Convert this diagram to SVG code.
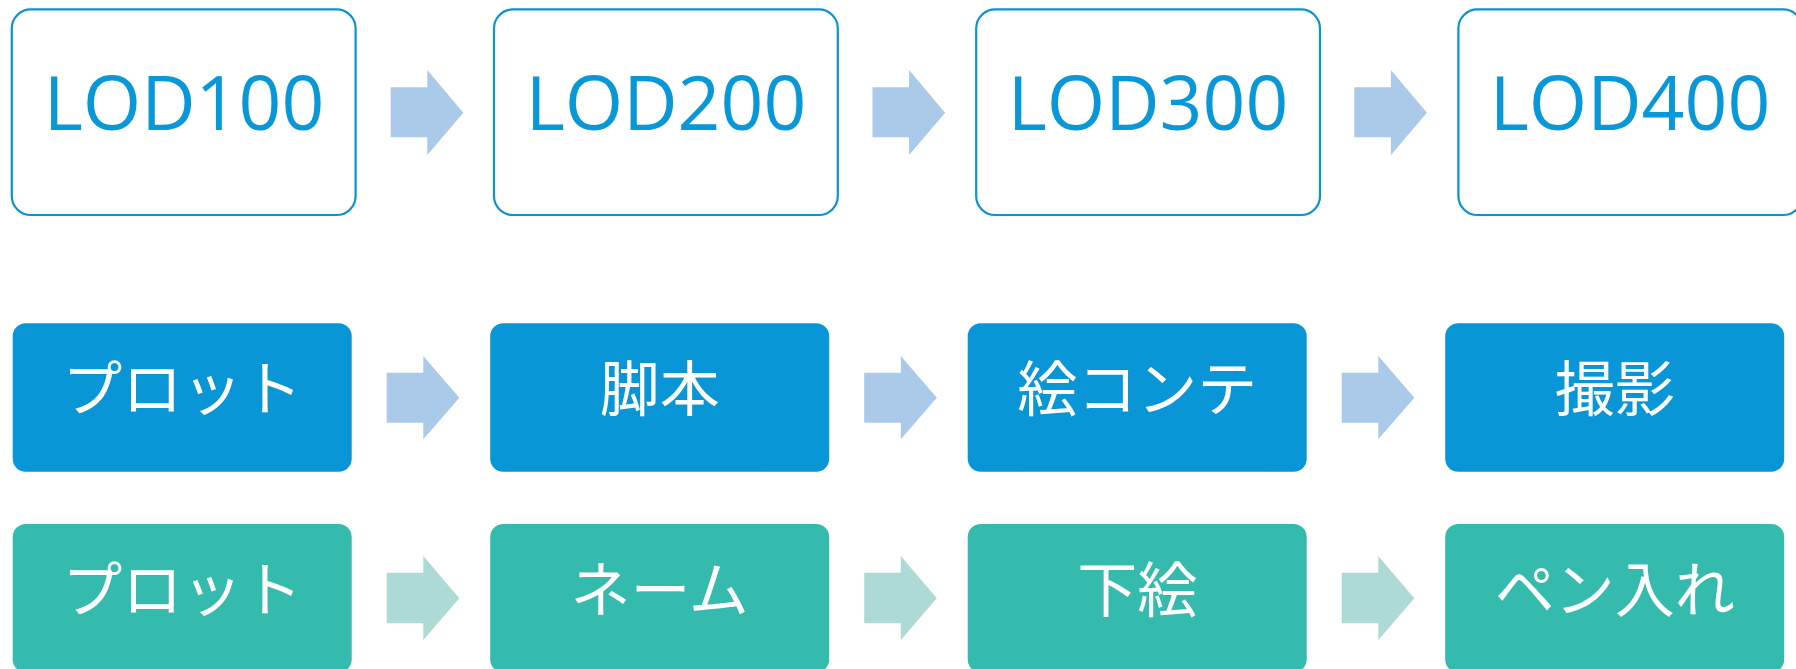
<svg xmlns="http://www.w3.org/2000/svg" width="1796" height="669" viewBox="0 0 1796 669">
  <style>
    .lodbox { fill: #ffffff; stroke: #0A93D1; stroke-width: 2.2; }
    .lodtxt { font-family: "Open Sans", "Noto Sans", "Liberation Sans", sans-serif; font-size: 75px; fill: #0898D8; text-anchor: middle; }
    .bbox { fill: #0896D6; }
    .gbox { fill: #35BBAD; }
    .jtxt { font-family: "Noto Sans CJK JP", "Noto Sans", sans-serif; font-size: 60px; fill: #ffffff; text-anchor: middle; }
    .arrB { fill: #ABC9E8; }
    .arrG { fill: #ADDAD4; }
  </style>
  <rect width="1796" height="669" fill="#ffffff"/>

  <g id="connectors">
    <path class="arrB" d="M390.7,87.3 H427.3 V70 L463.3,112.7 L427.3,155 V137.3 H390.7 Z"/>
    <path class="arrB" d="M872.5,87.3 H909.1 V70 L945.1,112.7 L909.1,155 V137.3 H872.5 Z"/>
    <path class="arrB" d="M1354.3,87.3 H1390.9 V70 L1426.9,112.7 L1390.9,155 V137.3 H1354.3 Z"/>

    <path class="arrB" d="M386.7,372.7 H423.3 V356 L459.3,397.7 L423.3,439.3 V422.7 H386.7 Z"/>
    <path class="arrB" d="M864.2,372.7 H900.8 V356 L936.8,397.7 L900.8,439.3 V422.7 H864.2 Z"/>
    <path class="arrB" d="M1341.7,372.7 H1378.3 V356 L1414.3,397.7 L1378.3,439.3 V422.7 H1341.7 Z"/>

    <path class="arrG" d="M386.7,572.7 H423.3 V556 L459.3,598.3 L423.3,640 V623.3 H386.7 Z"/>
    <path class="arrG" d="M864.2,572.7 H900.8 V556 L936.8,598.3 L900.8,640 V623.3 H864.2 Z"/>
    <path class="arrG" d="M1341.7,572.7 H1378.3 V556 L1414.3,598.3 L1378.3,640 V623.3 H1341.7 Z"/>
  </g>

  <g id="lod100"><rect class="lodbox" x="11.8" y="9.4" width="343.8" height="205.6" rx="19"/><text class="lodtxt" x="184" y="130">LOD100</text></g>
  <g id="lod200"><rect class="lodbox" x="494" y="9.4" width="343.8" height="205.6" rx="19"/><text class="lodtxt" x="666" y="130">LOD200</text></g>
  <g id="lod300"><rect class="lodbox" x="976.2" y="9.4" width="343.8" height="205.6" rx="19"/><text class="lodtxt" x="1148" y="130">LOD300</text></g>
  <g id="lod400"><rect class="lodbox" x="1458.4" y="9.4" width="343.8" height="205.6" rx="19"/><text class="lodtxt" x="1630" y="130">LOD400</text></g>

  <g id="b-plot"><rect class="bbox" x="12.7" y="323.3" width="339" height="148.4" rx="13"/><text class="jtxt" x="182.2" y="411">プロット</text></g>
  <g id="b-kyakuhon"><rect class="bbox" x="490.2" y="323.3" width="339" height="148.4" rx="13"/><text class="jtxt" x="659.7" y="411">脚本</text></g>
  <g id="b-ekonte"><rect class="bbox" x="967.7" y="323.3" width="339" height="148.4" rx="13"/><text class="jtxt" x="1137.2" y="411">絵コンテ</text></g>
  <g id="b-satsuei"><rect class="bbox" x="1445.2" y="323.3" width="339" height="148.4" rx="13"/><text class="jtxt" x="1614.7" y="411">撮影</text></g>

  <g id="g-plot"><rect class="gbox" x="12.7" y="524" width="339" height="148.4" rx="13"/><text class="jtxt" x="182.2" y="612">プロット</text></g>
  <g id="g-name"><rect class="gbox" x="490.2" y="524" width="339" height="148.4" rx="13"/><text class="jtxt" x="659.7" y="612">ネーム</text></g>
  <g id="g-shitae"><rect class="gbox" x="967.7" y="524" width="339" height="148.4" rx="13"/><text class="jtxt" x="1137.2" y="612">下絵</text></g>
  <g id="g-penire"><rect class="gbox" x="1445.2" y="524" width="339" height="148.4" rx="13"/><text class="jtxt" x="1614.7" y="612">ペン入れ</text></g>
</svg>
